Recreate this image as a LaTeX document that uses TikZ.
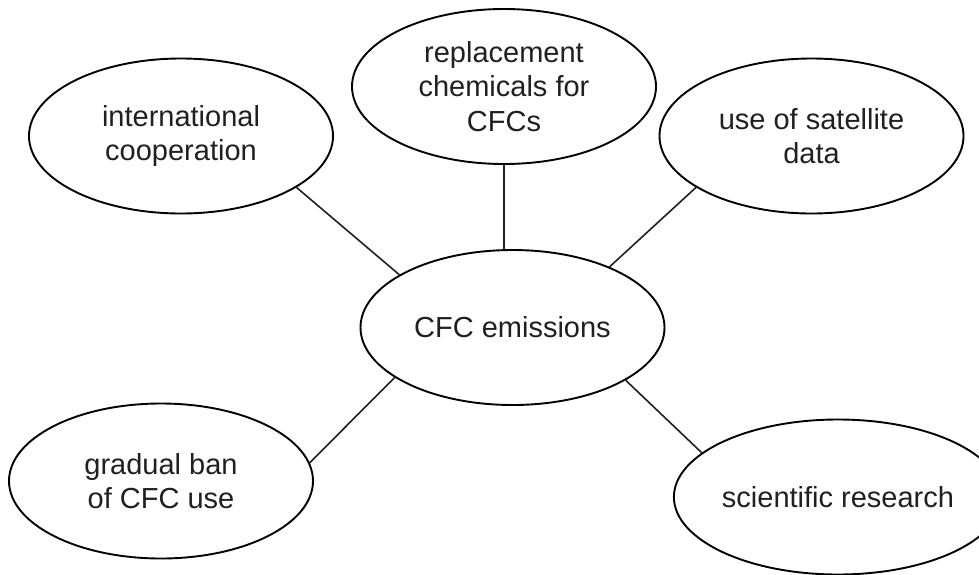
\documentclass[tikz,border=0pt]{standalone}
\usepackage{fontspec}
\setmainfont{Liberation Sans}
\usetikzlibrary{shapes.geometric}
\definecolor{txt}{HTML}{231F20}
\begin{document}
\begin{tikzpicture}[x=1pt,y=-1pt,
  bubble/.style={ellipse, draw=black, line width=1.9pt, minimum width=304pt, minimum height=155pt,
    inner sep=0pt, align=center, text=txt, font=\fontsize{29}{34.5}\selectfont},
  link/.style={draw=txt, line width=1.6pt}]
\clip (0,0) rectangle (979,574);
\useasboundingbox (0,0) rectangle (979,574);
\node[bubble] (cen) at (512.5,327.5) {CFC emissions};
\node[bubble] (int) at (181,136) {international\\cooperation};
\node[bubble] (rep) at (504,86.5) {replacement\\chemicals for\\CFCs};
\node[bubble] (sat) at (811.5,136) {use of satellite\\data};
\node[bubble] (ban) at (161,481) {gradual ban\\of CFC use};
\node[bubble] (sci) at (838,497) {scientific research};
\draw[link] (int.-24.3) -- (cen.155.4);
\draw[link] (rep.south) -- (cen.north -| rep.south);
\draw[link] (sat.204.4) -- (cen.32.6);
\draw[link] (ban.7.6) -- (cen.203.3);
\draw[link] (cen.-25.8) -- (sci.162.8);
\end{tikzpicture}
\end{document}
